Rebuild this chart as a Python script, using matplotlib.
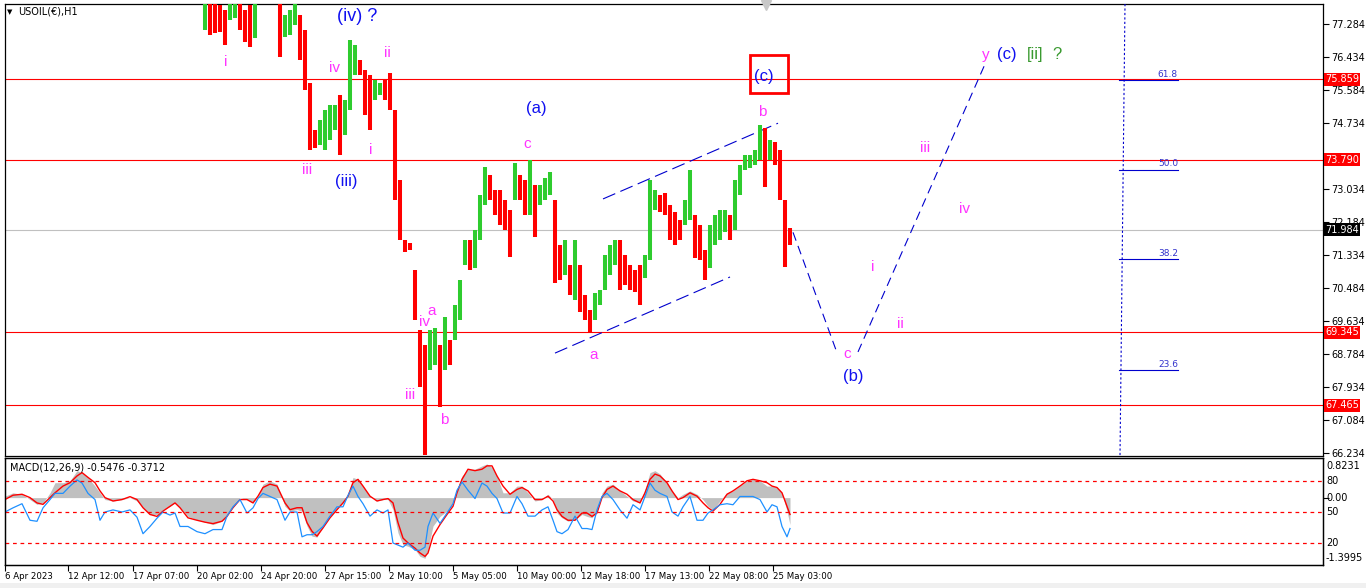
import numpy as np
import matplotlib
matplotlib.use("Agg")
import matplotlib.pyplot as plt
import matplotlib.transforms as mtransforms
from matplotlib.patches import Rectangle

# hourly price, grouped in columns of 5 bars (high / low), first column at bar 205
first_bar = 205
bar_step = 5
hi = [78.16, 78.03, 77.90, 77.77, 77.65, 78.03, 78.03, 77.90, 77.65, 77.77,
      78.03, 78.93, 79.10, 79.00, 78.60, 78.03, 77.52, 77.65, 78.03, 77.52,
      77.13, 75.76, 74.55, 74.81, 75.07, 75.20, 75.20, 75.45, 75.33, 76.87,
      76.74, 76.36, 76.10, 75.97, 75.84, 75.76, 75.84, 76.02, 75.07, 73.27,
      71.72, 71.64, 70.95, 69.40, 69.02, 69.40, 69.45, 69.02, 69.74, 69.14,
      70.05, 70.69, 71.72, 71.72, 71.98, 72.88, 73.60, 73.39, 73.01, 73.01,
      72.75, 72.49, 73.70, 73.39, 73.27, 73.78, 73.14, 73.14, 73.32, 73.47,
      72.75, 71.59, 71.72, 71.08, 71.72, 71.08, 70.30, 69.92, 70.36, 70.43,
      71.33, 71.59, 71.72, 71.72, 71.33, 71.08, 70.95, 71.08, 71.33, 73.27,
      73.01, 72.88, 72.93, 72.62, 72.44, 72.24, 72.75, 73.52, 72.36, 72.11,
      71.46, 72.11, 72.36, 72.49, 72.49, 72.36, 73.27, 73.65, 73.91, 73.91,
      74.04, 74.68, 74.61, 74.30, 74.25, 74.04, 72.75, 72.03]
lo = [77.13, 77.00, 77.05, 77.08, 76.74, 77.39, 77.44, 77.13, 76.82, 76.69,
      76.92, 78.03, 78.20, 78.10, 77.85, 76.43, 76.95, 77.00, 77.26, 76.36,
      75.58, 74.04, 74.09, 74.17, 74.04, 74.30, 74.55, 73.91, 74.42, 75.07,
      75.97, 75.97, 74.94, 74.55, 75.33, 75.45, 75.33, 75.07, 72.75, 71.72,
      71.41, 71.46, 69.66, 67.93, 66.18, 68.37, 68.50, 67.42, 68.37, 68.50,
      69.14, 69.66, 71.08, 70.95, 71.00, 71.72, 72.62, 72.75, 72.36, 72.11,
      71.98, 71.28, 72.75, 72.75, 72.36, 72.36, 71.80, 72.62, 72.75, 72.88,
      70.61, 70.69, 70.82, 70.30, 70.17, 69.87, 69.66, 69.35, 69.66, 70.05,
      70.43, 70.82, 71.08, 70.43, 70.56, 70.43, 70.38, 70.05, 70.74, 71.20,
      72.49, 72.44, 72.36, 71.72, 71.59, 71.72, 72.11, 72.24, 71.26, 71.20,
      70.69, 71.00, 71.59, 71.72, 71.93, 71.72, 71.98, 72.88, 73.52, 73.57,
      73.65, 73.78, 73.09, 73.78, 73.65, 72.75, 71.02, 71.59]

# MACD(12,26,9) panel
macd_x = [5, 13, 22, 30, 37, 43, 50, 55, 63, 70,
          77, 82, 88, 95, 100, 105, 113, 122, 130, 137,
          143, 150, 157, 163, 170, 175, 180, 188, 197, 205,
          213, 222, 227, 233, 240, 247, 253, 258, 263, 270,
          277, 285, 290, 297, 302, 307, 312, 317, 323, 330,
          337, 343, 348, 353, 358, 363, 370, 377, 383, 388,
          393, 398, 403, 408, 415, 420, 425, 428, 433, 440,
          447, 453, 457, 462, 468, 475, 482, 487, 492, 497,
          503, 510, 517, 522, 528, 535, 542, 548, 553, 557,
          562, 568, 575, 582, 587, 592, 597, 602, 607, 613,
          620, 627, 633, 640, 645, 650, 655, 660, 667, 672,
          678, 683, 690, 697, 703, 708, 713, 720, 727, 733,
          740, 747, 753, 760, 767, 772, 777, 782, 787, 790]
macd_main = [0.03, 0.10, 0.07, -0.04, -0.14, -0.11, 0.10, 0.31, 0.31, 0.35,
             0.56, 0.52, 0.42, 0.24, 0.10, -0.04, -0.07, -0.04, 0.00, -0.07,
             -0.21, -0.35, -0.35, -0.25, -0.18, -0.11, -0.21, -0.39, -0.46, -0.51,
             -0.56, -0.49, -0.35, -0.18, 0.00, -0.04, -0.11, 0.03, 0.28, 0.35,
             0.28, -0.18, -0.28, -0.25, -0.28, -0.59, -0.80, -0.82, -0.59, -0.39,
             -0.21, -0.11, 0.07, 0.42, 0.38, 0.24, 0.03, -0.07, -0.04, -0.04,
             -0.25, -0.73, -0.98, -1.01, -1.08, -1.22, -1.26, -1.08, -0.59, -0.39,
             -0.28, -0.11, 0.17, 0.45, 0.59, 0.59, 0.66, 0.70, 0.63, 0.45,
             0.10, 0.10, 0.24, 0.24, 0.10, -0.07, -0.04, 0.07, -0.04, -0.32,
             -0.42, -0.49, -0.46, -0.35, -0.39, -0.42, -0.28, 0.10, 0.24, 0.28,
             0.14, 0.03, -0.07, -0.11, 0.17, 0.52, 0.56, 0.49, 0.31, 0.14,
             0.00, 0.07, 0.14, 0.07, -0.04, -0.18, -0.25, -0.07, 0.10, 0.14,
             0.24, 0.35, 0.38, 0.35, 0.24, 0.24, 0.21, 0.10, -0.28, -0.56]
macd_signal = [-0.04, 0.05, 0.07, 0.00, -0.11, -0.14, 0.00, 0.10, 0.24, 0.31,
               0.45, 0.52, 0.42, 0.31, 0.14, 0.00, -0.07, -0.04, 0.02, -0.04,
               -0.21, -0.35, -0.39, -0.28, -0.18, -0.11, -0.21, -0.42, -0.47, -0.51,
               -0.54, -0.49, -0.39, -0.21, -0.04, -0.04, -0.11, 0.03, 0.21, 0.28,
               0.24, -0.11, -0.25, -0.21, -0.21, -0.52, -0.70, -0.80, -0.63, -0.42,
               -0.25, -0.11, 0.03, 0.31, 0.38, 0.24, 0.03, -0.07, -0.04, -0.02,
               -0.11, -0.52, -0.84, -0.94, -1.05, -1.15, -1.22, -1.15, -0.80, -0.56,
               -0.35, -0.18, 0.10, 0.38, 0.59, 0.56, 0.59, 0.66, 0.66, 0.45,
               0.24, 0.07, 0.17, 0.21, 0.14, -0.04, -0.04, 0.03, -0.07, -0.25,
               -0.39, -0.47, -0.47, -0.32, -0.32, -0.39, -0.32, 0.00, 0.17, 0.24,
               0.14, 0.07, -0.04, -0.11, 0.10, 0.38, 0.49, 0.45, 0.31, 0.14,
               -0.04, 0.00, 0.10, 0.03, -0.11, -0.21, -0.28, -0.14, 0.07, 0.14,
               0.24, 0.35, 0.38, 0.35, 0.31, 0.24, 0.21, 0.10, -0.18, -0.35]
osc = [50, 54, 58, 42, 41, 54, 62, 68, 68, 75,
       81, 78, 68, 62, 42, 50, 52, 50, 52, 45,
       29, 36, 44, 50, 47, 49, 36, 36, 31, 29,
       33, 33, 46, 55, 62, 49, 54, 63, 68, 65,
       62, 42, 50, 50, 26, 28, 28, 31, 36, 46,
       55, 55, 66, 75, 65, 58, 46, 52, 49, 52,
       20, 18, 16, 20, 13, 13, 16, 36, 49, 39,
       49, 58, 71, 79, 71, 63, 78, 75, 68, 63,
       49, 49, 65, 58, 46, 46, 52, 55, 42, 31,
       29, 33, 46, 34, 34, 33, 52, 65, 68, 62,
       52, 44, 57, 52, 65, 78, 71, 68, 65, 50,
       46, 55, 65, 42, 42, 49, 52, 57, 58, 57,
       65, 65, 65, 62, 50, 57, 55, 36, 26, 34]
osc_levels = [80, 50, 20]

red_levels = [75.859, 73.790, 69.345, 67.465]
last_price = 71.984
price_ticks = [77.284, 76.434, 75.584, 74.734, 73.034, 72.184, 71.334,
               70.484, 69.634, 68.784, 67.934, 67.084, 66.234]
time_ticks = [5, 68, 133, 197, 261, 325, 389, 453, 517, 581, 645, 709, 773]
time_labels = ["6 Apr 2023", "12 Apr 12:00", "17 Apr 07:00", "20 Apr 02:00",
               "24 Apr 20:00", "27 Apr 15:00", "2 May 10:00", "5 May 05:00",
               "10 May 00:00", "12 May 18:00", "17 May 13:00", "22 May 08:00",
               "25 May 03:00"]

# drawn objects
fib_0, fib_100 = 63.76, 83.31
fib_pcts = [61.8, 50.0, 38.2, 23.6]
chan_up = ([603, 778], [72.78, 74.73])
chan_dn = ([555, 730], [68.81, 70.77])
fcst_x = [793, 836]
fcst_y = [71.92, 68.89]
fcst2_x = [858, 986]
fcst2_y = [68.84, 76.31]

magenta = "#FF33FF"
blue = "#1010F0"
labels = [  # x, price, text, colour, size
    (226, 76.31, "i", magenta, 11), (387, 76.54, "ii", magenta, 11),
    (335, 76.15, "iv", magenta, 11), (307, 73.52, "iii", magenta, 11),
    (371, 74.04, "i", magenta, 11), (346, 73.24, "(iii)", blue, 12),
    (357, 77.48, "(iv) ?", blue, 13), (536, 75.12, "(a)", blue, 12),
    (527, 74.19, "c", magenta, 11), (432, 69.89, "a", magenta, 11),
    (425, 69.61, "iv", magenta, 11), (410, 67.73, "iii", magenta, 11),
    (444, 67.08, "b", magenta, 11), (594, 68.76, "a", magenta, 11),
    (764, 75.94, "(c)", blue, 12), (762, 75.02, "b", magenta, 11),
    (986, 76.49, "y", magenta, 11), (1007, 76.49, "(c)", blue, 12),
    (1035, 76.49, "[ii]", "#3A9A30", 12), (1057, 76.49, "?", "#3A9A30", 12),
    (925, 74.09, "iii", magenta, 11), (965, 72.52, "iv", magenta, 11),
    (873, 71.02, "i", magenta, 11), (900, 69.56, "ii", magenta, 11),
    (847, 68.79, "c", magenta, 11), (853, 68.22, "(b)", blue, 12),
]

W, H = 1366, 588
fig = plt.figure(figsize=(W / 100, H / 100), dpi=100)
fig.patch.set_facecolor("white")
ax = fig.add_axes([5 / W, 1 - 456 / H, 1318 / W, 452 / H])
ax2 = fig.add_axes([5 / W, 1 - 565 / H, 1318 / W, 107 / H])
ax3 = ax2.twinx()

# price bars
bx = first_bar + bar_step * np.arange(len(hi))
mid = (np.array(hi) + np.array(lo)) / 2
up = np.r_[True, mid[1:] >= mid[:-1]]
cols = np.where(up, "#2ECC2E", "#FF0000")
ax.vlines(bx, lo, hi, colors=cols, lw=2.9, zorder=4)

for lv in red_levels:
    ax.axhline(lv, color="red", lw=0.8, zorder=2)
ax.axhline(last_price, color="#C0C0C0", lw=0.8, zorder=1)

ax.plot(*chan_up, color="#0000CD", lw=0.8, dashes=(12, 5), zorder=3)
ax.plot(*chan_dn, color="#0000CD", lw=0.8, dashes=(12, 5), zorder=3)
ax.plot(fcst_x, fcst_y, color="#0000CD", lw=0.8, dashes=(8, 5), zorder=3)
ax.plot(fcst2_x, fcst2_y, color="#0000CD", lw=0.8, dashes=(8, 5), zorder=3)

# fibonacci
ax.plot([1125, 1120], [77.8, 66.16], color="#0000CD", lw=0.8, dashes=(2, 2), zorder=3)
for p in fib_pcts:
    y = fib_0 + p / 100 * (fib_100 - fib_0)
    ax.plot([1119, 1178], [y, y], color="#0000CD", lw=0.8, zorder=3)
    ax.text(1178, y + 0.03, f"{p:.1f}", ha="right", va="bottom", fontsize=6.5,
            color="#3333CC", zorder=5)

for x, y, t, c, s in labels:
    ax.text(x, y, t, color=c, fontsize=s, ha="center", va="center",
            family="Liberation Sans", zorder=6)
ax.add_patch(Rectangle((750, 75.51), 38, 0.98, fill=False, ec="red", lw=2, zorder=6))
ax.plot([766], [77.77], marker="v", ms=7, color="#C8C8C8", clip_on=False, zorder=6)

ax.set_xlim(5, 1323)
ax.set_ylim(66.16, 77.80)
ax.set_xticks([])
ax.yaxis.tick_right()
ax.set_yticks(price_ticks)
ax.set_yticklabels([f"{v:.3f}" for v in price_ticks])
ax.tick_params(axis="y", length=4, width=0.8, labelsize=7, pad=2)

tr = mtransforms.blended_transform_factory(ax.transAxes, ax.transData)
for lv in red_levels:
    ax.text(1.0015, lv, f"{lv:.3f}", transform=tr, color="white", fontsize=7,
            va="center", ha="left", clip_on=False, zorder=10,
            bbox=dict(boxstyle="square,pad=0.15", fc="red", ec="none"))
ax.text(1.0015, last_price, f"{last_price:.3f}", transform=tr, color="white",
        fontsize=7, va="center", ha="left", clip_on=False, zorder=10,
        bbox=dict(boxstyle="square,pad=0.15", fc="black", ec="none"))

# macd panel
ax2.fill_between(macd_x, 0, macd_main, color="#C0C0C0", lw=0, zorder=1)
ax2.plot(macd_x, macd_signal, color="red", lw=1, zorder=3)
ax2.set_xlim(5, 1323)
ax2.set_ylim(-1.3995, 0.8231)
ax2.set_yticks([0])
ax2.set_yticklabels([""])
ax2.yaxis.tick_right()
ax2.tick_params(axis="y", length=4, width=0.8)
ax2.set_xticks(time_ticks)
ax2.set_xticklabels(time_labels)
ax2.tick_params(axis="x", length=4, width=0.8, labelsize=6.2, pad=1)
for lab in ax2.get_xticklabels():
    lab.set_ha("left")

ax3.plot(macd_x, osc, color="#1E90FF", lw=0.9, zorder=2)
for lv in osc_levels:
    ax3.axhline(lv, color="red", lw=0.9, dashes=(3, 3))
ax3.set_ylim(-1.26, 102.2)
ax3.set_yticks([])

for a in (ax, ax2, ax3):
    for sp in a.spines.values():
        sp.set_linewidth(0.9)
        sp.set_color("black")

for txt, ypx in [("0.8231", 466), ("80", 481), ("0.00", 498), ("50", 512),
                 ("20", 543), ("-1.3995", 558)]:
    fig.text(1326 / W, 1 - ypx / H, txt, fontsize=7, va="center", ha="left")

fig.text(7 / W, 1 - 12 / H, "\u25BC", fontsize=5, va="center", ha="left")
fig.text(18 / W, 1 - 12 / H, "USOIL(\u20ac),H1", fontsize=7, va="center", ha="left")
fig.text(10 / W, 1 - 467 / H, "MACD(12,26,9) -0.5476 -0.3712", fontsize=7,
         va="center", ha="left")
fig.patches.append(Rectangle((0, 0), 1, 5 / H, transform=fig.transFigure,
                             fc="#F0F0F0", ec="none"))

fig.savefig("out.png", dpi=100)
